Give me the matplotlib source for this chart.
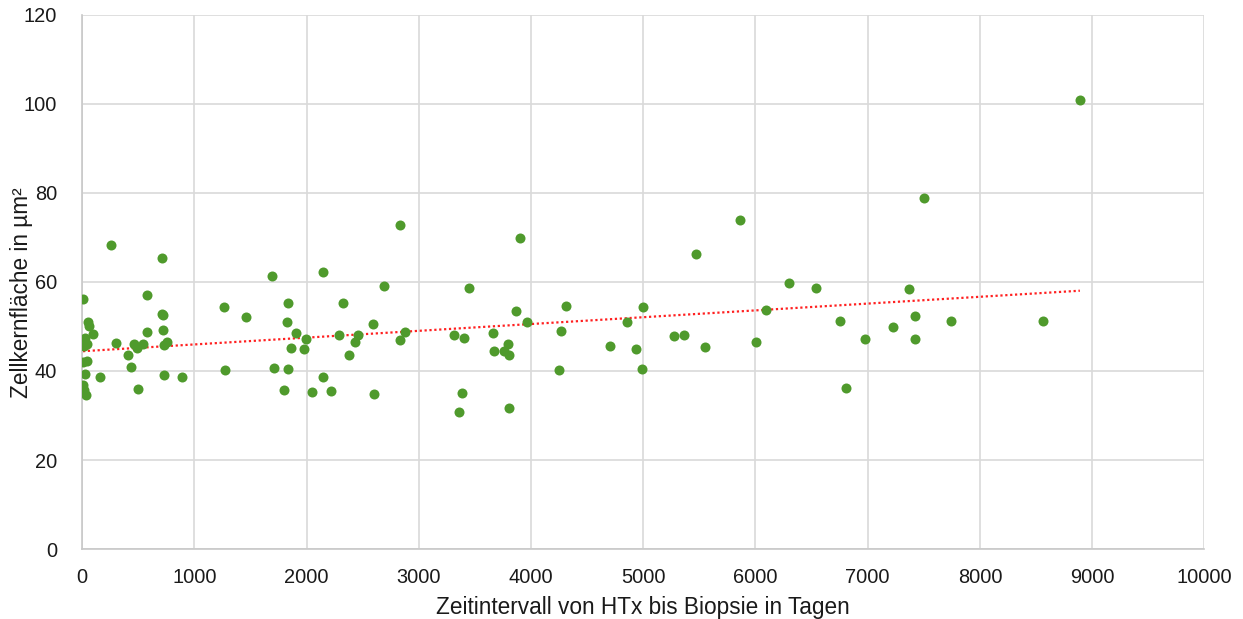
import numpy as np
import matplotlib.pyplot as plt

plt.rcParams['font.family'] = ['Liberation Sans', 'DejaVu Sans']

# days between HTx and biopsy
tage = [8, 50, 65, 101, 27, 15, 40, 10, 45, 25, 10, 18, 32,
        160, 255, 303, 407, 433, 463, 493, 496, 546, 576, 576,
        709, 724, 715, 724, 730, 760, 733, 893,
        1268, 1276, 1457, 1692, 1710, 1802, 1822, 1831, 1831, 1858,
        1905, 1980, 1995, 2051, 2143, 2149, 2217, 2286, 2327, 2375,
        2434, 2458, 2594, 2600, 2689, 2835, 2835, 2880,
        3313, 3360, 3384, 3405, 3446, 3663, 3669, 3758, 3791, 3808,
        3808, 3862, 3906, 3968, 4245, 4271, 4315, 4708, 4852, 4936,
        4987, 5001, 5277, 5361, 5474, 5554, 5862, 6008, 6097, 6296,
        6536, 6750, 6809, 6975, 7225, 7367, 7418, 7424, 7504, 7744,
        8560, 8890]
# nuclear area in um^2
flaeche = [56.1, 51.1, 50.0, 48.2, 47.3, 45.6, 46.0, 42.1, 42.3, 39.3, 36.9, 35.7, 34.6,
           38.7, 68.3, 46.2, 43.5, 40.8, 46.1, 45.1, 36.0, 46.1, 57.1, 48.7,
           52.8, 52.6, 65.3, 49.2, 45.8, 46.4, 39.0, 38.6,
           54.3, 40.2, 52.1, 61.3, 40.6, 35.8, 51.1, 55.3, 40.4, 45.1,
           48.5, 44.9, 47.1, 35.3, 62.3, 38.7, 35.6, 48.1, 55.3, 43.7,
           46.4, 48.1, 50.5, 34.8, 59.1, 72.7, 47.0, 48.7,
           48.1, 30.8, 35.0, 47.3, 58.7, 48.6, 44.6, 44.6, 46.0, 43.6,
           31.6, 53.5, 69.8, 50.9, 40.2, 49.0, 54.7, 45.6, 51.0, 44.9,
           40.5, 54.3, 47.8, 48.1, 66.3, 45.3, 73.9, 46.6, 53.6, 59.7,
           58.7, 51.2, 36.1, 47.1, 49.8, 58.4, 52.4, 47.1, 78.8, 51.2,
           51.2, 100.8]

x = np.array(tage)
y = np.array(flaeche)

fig = plt.figure(figsize=(12.43, 6.19), dpi=100)
ax = fig.add_axes([0.066, 0.113, 0.903, 0.863])

ax.scatter(x, y, s=52, color='#4f9a2c', zorder=3, linewidths=0)

# linear trend
m, b = np.polyfit(x, y, 1)
xs = np.array([x.min(), x.max()])
ax.plot(xs, m * xs + b, color='#ff2020', linestyle=(0, (1, 1.2)), linewidth=1.6, zorder=2)

ax.set_xlim(0, 10000)
ax.set_ylim(0, 120)
ax.set_xticks(np.arange(0, 10001, 1000))
ax.set_yticks(np.arange(0, 121, 20))
ax.grid(True, color='#d9d9d9', linewidth=1.2)
ax.set_axisbelow(True)
ax.tick_params(axis='x', length=0, labelsize=14.4, pad=14, colors='#1a1a1a')
ax.tick_params(axis='y', length=0, labelsize=14.4, pad=18, colors='#1a1a1a')
for s in ['top', 'right']:
    ax.spines[s].set_visible(False)
for s in ['left', 'bottom']:
    ax.spines[s].set_color('#c8c8c8')
    ax.spines[s].set_linewidth(1.2)

ax.set_xlabel('Zeitintervall von HTx bis Biopsie in Tagen', fontsize=16.3, labelpad=6, color='#1a1a1a')
fig.text(0.017, 0.527, 'Zellkernfläche in µm²', fontsize=16.3, rotation=90,
         ha='center', va='center', color='#1a1a1a')

fig.savefig('out.png', dpi=100)
